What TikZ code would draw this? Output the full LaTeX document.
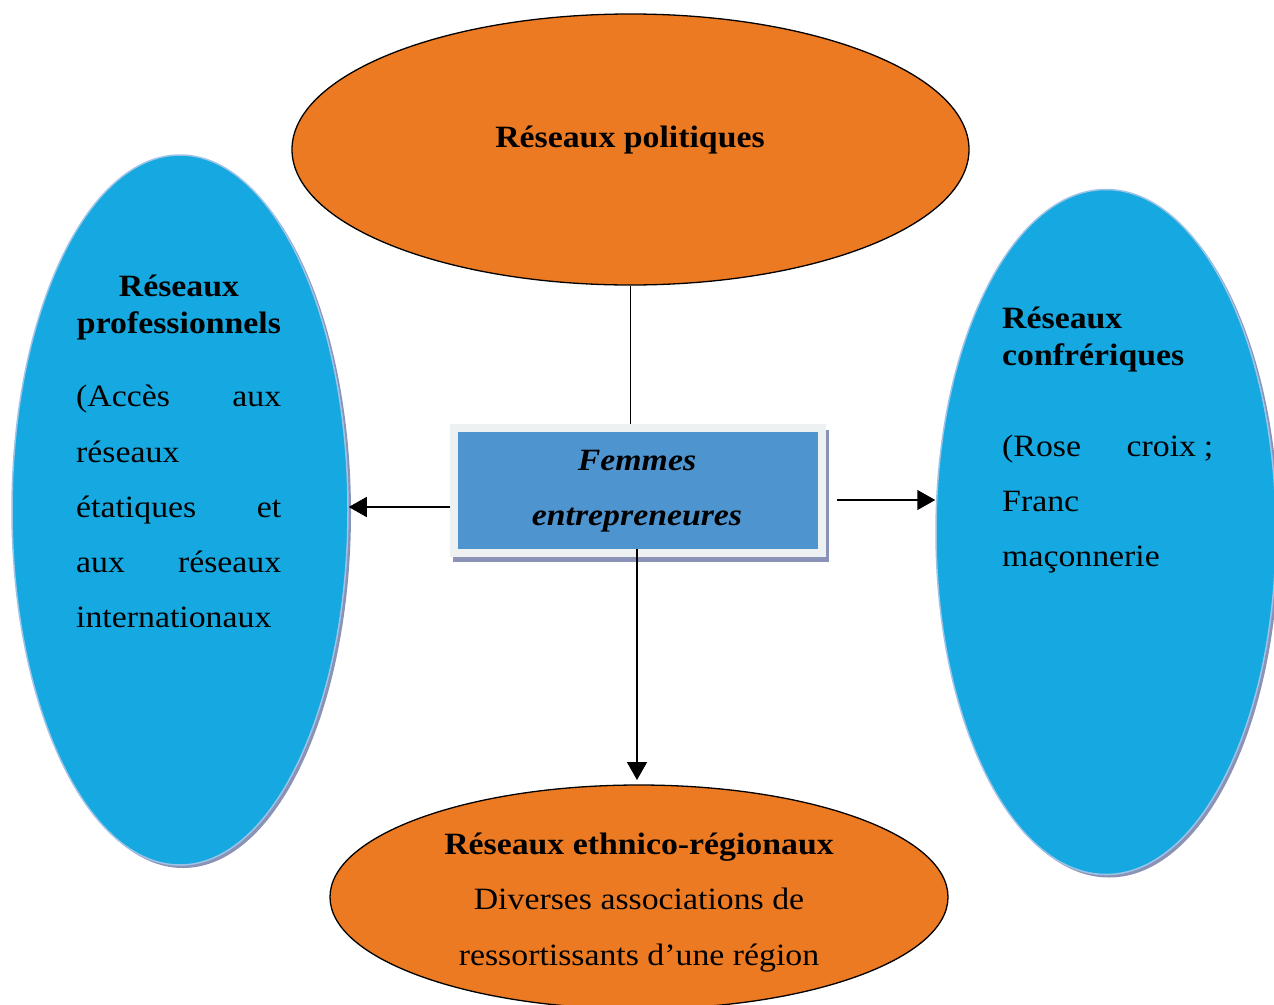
\documentclass[tikz,border=0pt]{standalone}
\usepackage{fontspec}
\setmainfont{Liberation Serif}[FakeStretch=1.09]
\usetikzlibrary{arrows.meta,shapes.geometric}
\definecolor{orng}{HTML}{EC7A23}
\definecolor{skyb}{HTML}{16A9E1}
\definecolor{boxb}{HTML}{4E94CF}
\definecolor{shad}{HTML}{8A93B5}
\definecolor{edgeb}{HTML}{9DC3E6}
\definecolor{frame}{HTML}{EEF1F1}
\begin{document}
\begin{tikzpicture}[x=1pt,y=-1pt,
  txt/.style={inner sep=0pt,anchor=base,font=\fontsize{31}{37}\selectfont},
  ltxt/.style={txt,anchor=base west},
  oval/.style={ellipse,inner sep=0pt},
  orangeoval/.style={oval,fill=orng,draw=black,line width=1.3pt},
  blueoval/.style={oval,fill=skyb,draw=edgeb,line width=1.5pt},
  shadowoval/.style={oval,fill=shad},
  conn/.style={line width=1.5pt},
  arr/.style={conn,-{Triangle[length=18pt,width=20pt]}}]
\useasboundingbox (0,0) rectangle (1274,1004);
\clip (0,0) rectangle (1274,1004);
% ellipses
\node[orangeoval,minimum width=677pt,minimum height=271pt] (top) at (630.5,149.5) {};
\node[orangeoval,minimum width=618pt,minimum height=224pt] (bot) at (639,897) {};
\node[shadowoval,minimum width=336pt,minimum height=710pt] (lsh) at (183,513) {};
\node[blueoval,minimum width=336pt,minimum height=710pt] (left) at (180,510) {};
\node[shadowoval,minimum width=340pt,minimum height=685pt] (rsh) at (1109,535) {};
\node[blueoval,minimum width=340pt,minimum height=685pt] (right) at (1106,532) {};
% centre box
\fill[shad] (453,430) rectangle (829,562);
\node[rectangle,fill=boxb,draw=frame,line width=8pt,minimum width=368pt,minimum height=125pt,inner sep=0pt] (box) at (638,490.5) {};
% texts
\node[txt,font=\fontsize{31}{37}\selectfont\bfseries] (t1) at (630,147) {Réseaux politiques};
\node[txt,font=\fontsize{31}{37}\selectfont\bfseries] (l1) at (179,296) {Réseaux};
\node[txt,font=\fontsize{31}{37}\selectfont\bfseries] (l2) at (179,333) {professionnels};
\node[ltxt] (l3) at (76,406) {\makebox[205pt][s]{(Accès aux}};
\node[ltxt] (l4) at (76,462) {réseaux};
\node[ltxt] (l5) at (76,517) {\makebox[205pt][s]{étatiques et}};
\node[ltxt] (l6) at (76,572) {\makebox[205pt][s]{aux réseaux}};
\node[ltxt] (l7) at (76,627) {internationaux};
\node[ltxt,font=\fontsize{31}{37}\selectfont\bfseries] (r1) at (1002,328) {Réseaux};
\node[ltxt,font=\fontsize{31}{37}\selectfont\bfseries] (r2) at (1002,365) {confrériques};
\node[ltxt] (r3) at (1002,456) {\makebox[211pt]{(Rose\hfill croix\hskip0.25em;}};
\node[ltxt] (r4) at (1002,511) {Franc};
\node[ltxt] (r5) at (1002,566) {maçonnerie};
\node[txt,font=\fontsize{31}{37}\selectfont\bfseries\itshape] (b1) at (637,470) {Femmes};
\node[txt,font=\fontsize{31}{37}\selectfont\bfseries\itshape] (b2) at (637,525) {entrepreneures};
\node[txt,font=\fontsize{31}{37}\selectfont\bfseries] (o1) at (639,854) {Réseaux ethnico-régionaux};
\node[txt] (o2) at (639,909) {Diverses associations de};
\node[txt] (o3) at (639,965) {ressortissants d’une région};
% connectors
\coordinate (la) at (450,507);
\coordinate (ra) at (837,500);
\coordinate (bs) at (637,549);
\coordinate (be) at (637,780);
\draw[conn] (top.south) -- (top.south |- box.north);
\draw[arr] (la) -- (la -| left.east);
\draw[arr] (ra) -- (ra -| right.west);
\draw[arr] (bs) -- (be);
\end{tikzpicture}
\end{document}
